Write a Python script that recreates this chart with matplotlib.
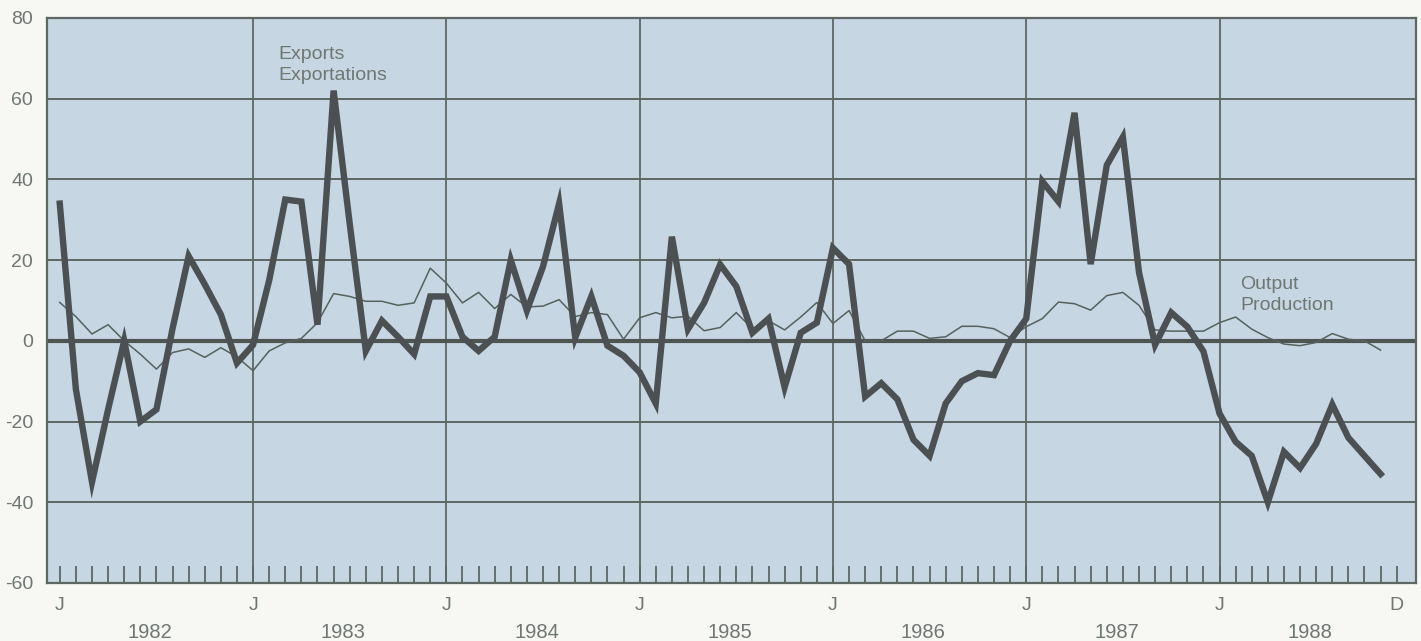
import matplotlib.pyplot as plt
from matplotlib.transforms import blended_transform_factory

plt.rcParams['font.family'] = ['Liberation Sans', 'DejaVu Sans']

# monthly index: 0 = Jan 1982 ... 82 = Nov 1988
exports = [34, -12, -35, -17, 0, -20, -17, 3, 21, 14, 6.5, -5.5,
           -1, 15, 35, 34.5, 4, 62, 29, -2.5, 5, 1, -3.3, 11,
           11, 1, -2.5, 1, 20, 7.5, 18.4, 34, 0.8, 11, -1.2, -3.7,
           -7.8, -15.5, 25.8, 2.9, 9.4, 18.9, 13.5, 2, 5.5, -11.5, 2, 4.5,
           23, 19, -13.8, -10.5, -14.5, -24.5, -28.5, -15.5, -10, -8, -8.5, 0,
           5.5, 39.5, 34.5, 56.5, 19, 43.5, 50.5, 17, -1, 7, 3.5, -2.6,
           -18, -25, -28.5, -40, -27.5, -31.5, -25.5, -15.8, -24, -28.5, -33]
output = [9.5, 6, 1.7, 4, 0, -3.3, -7, -2.9, -2, -4.1, -1.7, -4,
          -7.4, -2.5, -0.5, 0.6, 4.5, 11.7, 11, 9.8, 9.8, 8.8, 9.4, 18,
          14.3, 9.4, 12, 8, 11.5, 8.4, 8.6, 10.2, 6, 7, 6.5, 0.4,
          5.7, 7, 5.7, 6.1, 2.5, 3.3, 7, 3, 5, 2.7, 5.9, 9.5,
          4.3, 7.5, 0, 0, 2.4, 2.4, 0.6, 1, 3.6, 3.6, 3, 0.8,
          3.5, 5.5, 9.6, 9.2, 7.6, 11.2, 12, 8.8, 2.7, 2.4, 2.4, 2.4,
          4.5, 5.9, 2.9, 0.8, -0.8, -1.2, -0.4, 1.8, 0.4, 0, -2.3]
months = list(range(len(exports)))

year_starts = [0, 12, 24, 36, 48, 60, 72]
years = ["1982", "1983", "1984", "1985", "1986", "1987", "1988"]
y_ticks = [80, 60, 40, 20, 0, -20, -40, -60]
y_labels = ["80", "60", "40", "20", "0", "-20", "-40", "-60"]

bg = "#c6d6e2"
line_col = "#5d6864"
text_col = "#6f7773"

fig = plt.figure(figsize=(14.21, 6.41), dpi=100, facecolor="#f7f7f4")
ax = fig.add_axes([0.033, 0.0905, 0.9635, 0.8815])
ax.set_facecolor(bg)

ax.set_xlim(-0.8, 84.2)
ax.set_ylim(-60, 80)

# horizontal grid and year lines
for v in [60, 40, 20, -20, -40]:
    ax.axhline(v, color=line_col, lw=1.4, zorder=1)
for m in year_starts[1:]:
    ax.axvline(m, color=line_col, lw=1.3, zorder=1)
ax.axhline(0, color="#4e5652", lw=3, zorder=2)

ax.plot(months, output, color="#56625e", lw=1.1, zorder=3)
ax.plot(months, exports, color="#4b5152", lw=4.6, zorder=4,
        solid_joinstyle="miter")

for s in ax.spines.values():
    s.set_color(line_col)
    s.set_linewidth(1.6)

ax.set_yticks(y_ticks)
ax.set_yticklabels(y_labels)
ax.tick_params(axis="y", length=0, pad=10, labelsize=14, labelcolor=text_col)

ax.set_xticks(year_starts + [83])
ax.set_xticklabels(["J"] * 7 + ["D"])
ax.set_xticks(range(84), minor=True)
ax.tick_params(axis="x", which="both", direction="in", length=12,
               width=1.3, color=line_col, pad=10, labelsize=14,
               labelcolor=text_col)

trans = blended_transform_factory(ax.transData, ax.transAxes)
for m, yr in zip(year_starts, years):
    ax.text(m + 5.6, -0.088, yr, transform=trans, ha="center", va="center",
            fontsize=14.5, color=text_col)

ax.text(13.6, 73, "Exports\nExportations", fontsize=14, color=text_col,
        va="top", ha="left", linespacing=1.3)
ax.text(73.3, 16, "Output\nProduction", fontsize=14, color=text_col,
        va="top", ha="left", linespacing=1.3)

fig.savefig("out.png", dpi=100, facecolor=fig.get_facecolor())
